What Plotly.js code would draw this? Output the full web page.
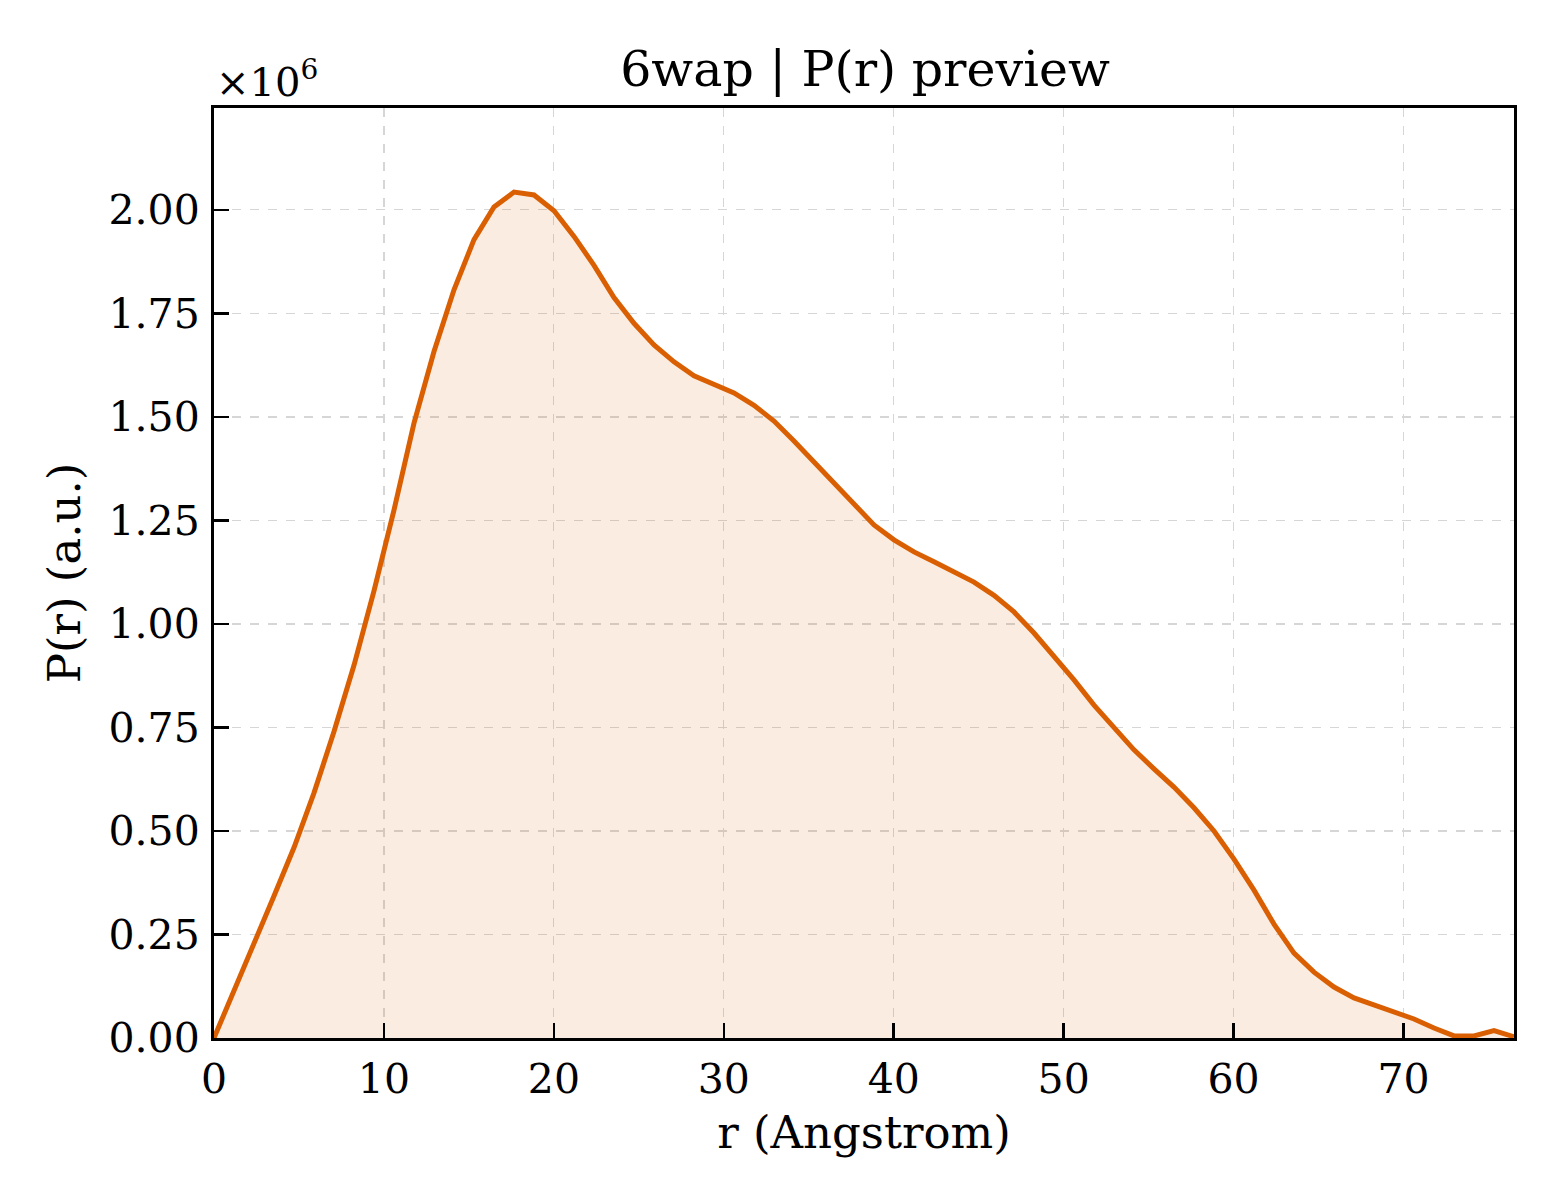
<!DOCTYPE html>
<html>
<head>
<meta charset="utf-8">
<script src="https://cdn.plot.ly/plotly-3.0.1.min.js"></script>
<style>body{margin:0;background:#fff}#chart{width:1560px;height:1200px}</style>
</head>
<body>
<div id="chart"></div>
<script>
// r values (Angstrom): 66 evenly spaced points from 0 to Dmax
const rMax = 76.5;
const rValues = [0.000,1.177,2.354,3.531,4.708,5.885,7.062,8.238,9.415,10.592,11.769,12.946,14.123,15.300,16.477,17.654,18.831,20.008,21.185,22.362,23.538,24.715,25.892,27.069,28.246,29.423,30.600,31.777,32.954,34.131,35.308,36.485,37.662,38.838,40.015,41.192,42.369,43.546,44.723,45.900,47.077,48.254,49.431,50.608,51.785,52.962,54.138,55.315,56.492,57.669,58.846,60.023,61.200,62.377,63.554,64.731,65.908,67.085,68.262,69.438,70.615,71.792,72.969,74.146,75.323,76.500];
// P(r) in units of 1e6
const prValues = [0.000,0.112,0.228,0.343,0.460,0.592,0.740,0.900,1.080,1.275,1.485,1.658,1.807,1.928,2.007,2.043,2.036,1.998,1.936,1.866,1.788,1.726,1.674,1.633,1.599,1.578,1.558,1.528,1.490,1.442,1.391,1.338,1.287,1.239,1.203,1.174,1.150,1.126,1.101,1.069,1.029,0.978,0.923,0.865,0.804,0.749,0.696,0.650,0.606,0.556,0.500,0.432,0.357,0.275,0.205,0.159,0.123,0.097,0.080,0.063,0.046,0.024,0.005,0.005,0.018,0.003];
const yTickVals = [0,0.25,0.5,0.75,1.0,1.25,1.5,1.75,2.0];
const yTickText = ['0.00','0.25','0.50','0.75','1.00','1.25','1.50','1.75','2.00'];
const xTickVals = [0,10,20,30,40,50,60,70];
const yMax = 2.246;

const FONT = 'DejaVu Serif, serif';

const trace = {
  x: rValues, y: prValues,
  type: 'scatter', mode: 'lines',
  line: {color: '#D95F02', width: 5},
  fill: 'tozeroy', fillcolor: 'rgba(217,95,2,0.12)',
  hoverinfo: 'skip'
};

const axisCommon = {
  showline: true, linecolor: '#000', linewidth: 3, mirror: true,
  ticks: 'inside', ticklen: 15, tickwidth: 2.5, tickcolor: '#000',
  showgrid: true, gridcolor: '#d6d6d6', griddash: 'dash', gridwidth: 1.2,
  zeroline: false,
  ticklabelstandoff: 3,
  tickfont: {family: FONT, size: 41, color: '#000'}
};

const layout = {
  width: 1560, height: 1200,
  paper_bgcolor: '#fff', plot_bgcolor: '#fff',
  margin: {l: 214, r: 46, t: 108, b: 162},
  showlegend: false,
  title: {text: '6wap | P(r) preview', font: {family: FONT, size: 49, color: '#000'},
          x: 0.5545, xanchor: 'center', y: 0.943, yanchor: 'middle', xref: 'container'},
  xaxis: Object.assign({}, axisCommon, {
    range: [0, rMax], tickmode: 'array', tickvals: xTickVals,
    ticktext: xTickVals.map(String),
    title: {text: 'r (Angstrom)', font: {family: FONT, size: 45, color: '#000'}, standoff: 15}
  }),
  yaxis: Object.assign({}, axisCommon, {
    range: [0, yMax], tickmode: 'array', tickvals: yTickVals, ticktext: yTickText,
    title: {text: 'P(r) (a.u.)', font: {family: FONT, size: 45, color: '#000'}, standoff: 14}
  }),
  annotations: [{
    text: '×10<sup>6</sup>', xref: 'paper', yref: 'paper', x: 0.0, y: 1.031,
    xanchor: 'left', yanchor: 'middle', showarrow: false,
    font: {family: FONT, size: 40, color: '#000'}
  }]
};

Plotly.newPlot('chart', [trace], layout, {displayModeBar: false, staticPlot: true});
</script>
</body>
</html>
